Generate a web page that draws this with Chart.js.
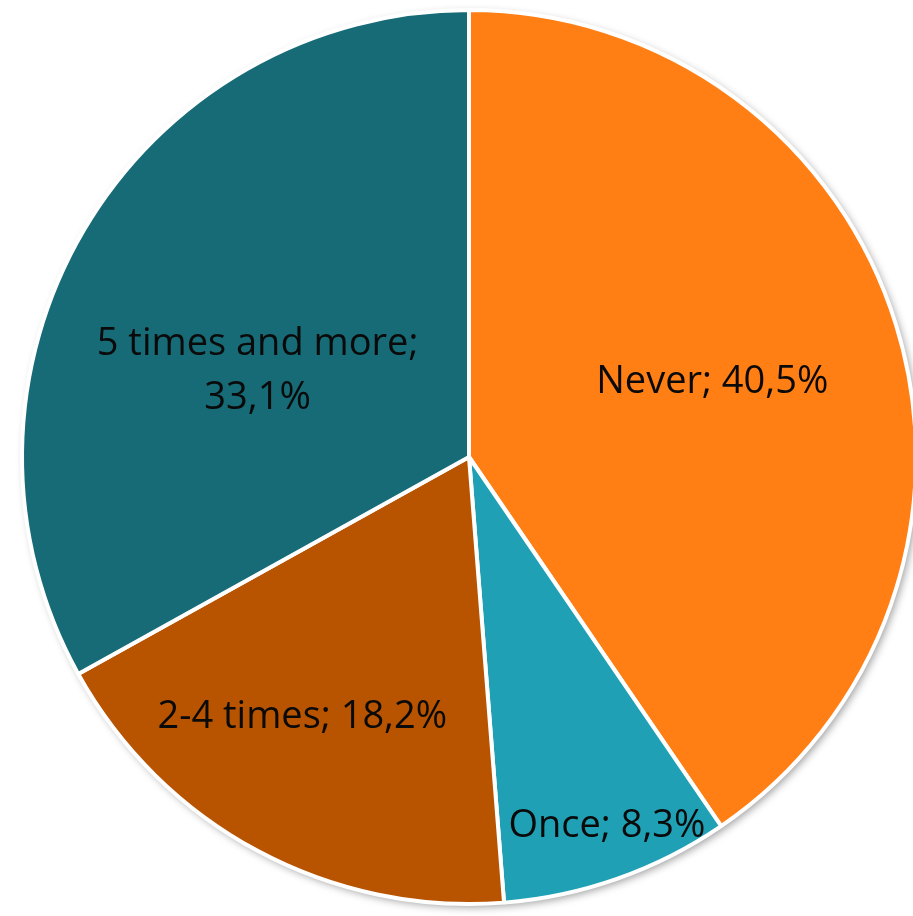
<!DOCTYPE html>
<html>
<head>
<meta charset="utf-8">
<script src="https://cdn.jsdelivr.net/npm/chart.js@4"></script>
<style>
  html, body { margin: 0; padding: 0; background: #ffffff; overflow: hidden; }
  #wrap { width: 913px; height: 916px; position: relative; }
</style>
</head>
<body>
<div id="wrap"><canvas id="c"></canvas></div>
<script>
// ---- data ----
const categories = ["Never", "Once", "2-4 times", "5 times and more"];
const shares = [40.5, 8.3, 18.2, 33.1];
const labelLines = [
  ["Never; 40,5%"],
  ["Once; 8,3%"],
  ["2-4 times; 18,2%"],
  ["5 times and more;", "33,1%"]
];

// ---- style ----
const sliceColors = ["#FF7F15", "#1FA0B4", "#B85300", "#176B77"];
// per-label placement: radial fraction and angle adjustment (degrees)
const labelRadius = [0.571, 0.876, 0.686, 0.513];
const labelAngleShift = [-0.45, -1.2, 4.7, -7.7];

const pieShadow = {
  id: 'pieShadow',
  beforeDatasetsDraw(chart) {
    const arc = chart.getDatasetMeta(0).data[0];
    if (!arc) return;
    const ctx = chart.ctx;
    ctx.save();
    ctx.beginPath();
    ctx.arc(arc.x, arc.y, arc.outerRadius, 0, Math.PI * 2);
    ctx.fillStyle = '#ffffff';
    ctx.shadowColor = 'rgba(0,0,0,0.4)';
    ctx.shadowBlur = 9;
    ctx.shadowOffsetX = 3;
    ctx.shadowOffsetY = 3;
    ctx.fill();
    ctx.restore();
  }
};

const sliceLabels = {
  id: 'sliceLabels',
  afterDatasetsDraw(chart) {
    const ctx = chart.ctx;
    const meta = chart.getDatasetMeta(0);
    ctx.save();
    ctx.font = '38px "Open Sans"';
    ctx.fillStyle = '#0a0a0a';
    ctx.textAlign = 'center';
    ctx.textBaseline = 'alphabetic';
    const lineH = 54;
    const capHalf = 13.5;
    meta.data.forEach((arc, i) => {
      const mid = (arc.startAngle + arc.endAngle) / 2 + labelAngleShift[i] * Math.PI / 180;
      const r = arc.outerRadius * labelRadius[i];
      const cx = arc.x + Math.cos(mid) * r;
      const cy = arc.y + Math.sin(mid) * r;
      const lines = labelLines[i];
      const top = cy - (lines.length - 1) * lineH / 2;
      lines.forEach((t, k) => {
        ctx.fillText(t, cx, top + k * lineH + capHalf);
      });
    });
    ctx.restore();
  }
};

new Chart(document.getElementById('c'), {
  type: 'pie',
  data: {
    labels: categories,
    datasets: [{
      data: shares,
      backgroundColor: sliceColors,
      borderColor: '#ffffff',
      borderWidth: 4,
      radius: 447
    }]
  },
  options: {
    responsive: true,
    maintainAspectRatio: false,
    animation: false,
    layout: { padding: { left: 25, right: 0, top: 11, bottom: 13 } },
    plugins: {
      legend: { display: false },
      tooltip: { enabled: false }
    }
  },
  plugins: [pieShadow, sliceLabels]
});
</script>
</body>
</html>
